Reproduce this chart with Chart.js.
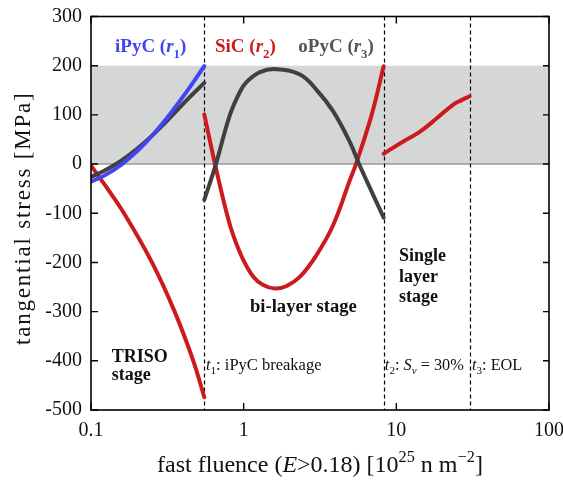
<!DOCTYPE html>
<html>
<head>
<meta charset="utf-8">
<script src="https://cdn.jsdelivr.net/npm/chart.js@4/dist/chart.umd.min.js"></script>
<style>
html,body{margin:0;padding:0;background:#fff;}
#wrap{width:563px;height:480px;position:relative;}
</style>
</head>
<body>
<div id="wrap"><canvas id="c" width="563" height="480"></canvas></div>
<script>
// ---- data ----
const xTicks = [0.1, 1, 10, 100];
const yTicks = [-500, -400, -300, -200, -100, 0, 100, 200, 300];
const eventFluence = [0.552, 8.26, 30.2];          // t1, t2, t3
const bandRange = [0, 200];                        // shaded region

const ipycX = [0.1, 0.1229, 0.158, 0.2032, 0.2614, 0.3357, 0.4316, 0.552];
const ipycY = [-35.6, -23, -1, 28, 63.7, 105, 150.7, 199];

const opyc1X = [0.1, 0.1229, 0.158, 0.2032, 0.2614, 0.3357, 0.4316, 0.552];
const opyc1Y = [-26, -13, 7, 32.6, 63, 97, 132.5, 165];

const sic1X = [0.1, 0.1229, 0.1645, 0.2509, 0.353, 0.4677, 0.552];
const sic1Y = [-3, -42, -100, -200, -300, -400, -474];

const opyc2X = [0.552, 0.658, 0.813, 0.946, 1.046, 1.278, 1.63, 2.34, 3.0, 3.86, 4.97, 5.7, 6.89, 8.26];
const opyc2Y = [-73, 0, 100, 147, 167, 187, 193, 182, 151, 107, 44, 0, -56, -109];

const sic2X = [0.552, 0.649, 0.774, 0.855, 0.994, 1.156, 1.343, 1.603, 1.912, 2.34, 3.0, 3.86, 4.97, 5.44, 6.89, 8.26];
const sic2Y = [101, 0, -100, -145, -195, -229, -246, -253, -248, -229, -185, -124, -32, 0, 100, 199];

const sic3X = [8.26, 11.1, 14.3, 18.4, 23.6, 26.8, 30.2];
const sic3Y = [21, 46, 66, 93, 121, 130, 138];

// ---- styles ----
const FONT = '"Liberation Serif", "Times New Roman", serif';
const BLUE = '#4146f2', RED = '#cc1b1f', DARK = '#404040';

const pts = (xs, ys) => xs.map((x, i) => ({x, y: ys[i]}));
const ds = (xs, ys, color) => ({
  data: pts(xs, ys), borderColor: color, borderWidth: 4, pointRadius: 0,
  fill: false, tension: 0.4, borderCapStyle: 'round', borderJoinStyle: 'round'
});

function drawRuns(ctx, x, y, runs, size, color, align) {
  const f = (r) => {
    const s = (r.sub || r.sup) ? size * 0.68 : size;
    return (r.it ? 'italic ' : '') + (r.b ? 'bold ' : '') + s + 'px ' + FONT;
  };
  let w = 0;
  runs.forEach(r => { ctx.font = f(r); w += ctx.measureText(r.t).width; });
  let cx = align === 'center' ? x - w / 2 : x;
  ctx.fillStyle = color;
  ctx.textBaseline = 'alphabetic';
  ctx.textAlign = 'left';
  runs.forEach(r => {
    ctx.font = f(r);
    let dy = 0;
    if (r.sub) dy = size * 0.3;
    if (r.sup) dy = -size * 0.42;
    ctx.fillText(r.t, cx, y + dy);
    cx += ctx.measureText(r.t).width;
  });
}

const decor = {
  id: 'decor',
  beforeDatasetsDraw(chart) {
    const {ctx, chartArea: a, scales: {x, y}} = chart;
    ctx.save();
    const yt = y.getPixelForValue(bandRange[1]), yb = y.getPixelForValue(bandRange[0]);
    ctx.fillStyle = '#d5d7d7';
    ctx.fillRect(a.left, yt, a.right - a.left, yb - yt);
    ctx.strokeStyle = '#9a9a9a';
    ctx.lineWidth = 1.5;
    ctx.beginPath(); ctx.moveTo(a.left, yb); ctx.lineTo(a.right, yb); ctx.stroke();
    ctx.strokeStyle = '#000';
    ctx.lineWidth = 1.2;
    ctx.setLineDash([4, 3]);
    eventFluence.forEach(v => {
      const px = Math.round(x.getPixelForValue(v)) + 0.5;
      ctx.beginPath(); ctx.moveTo(px, a.top); ctx.lineTo(px, a.bottom); ctx.stroke();
    });
    ctx.restore();
  },
  afterDatasetsDraw(chart) {
    const {ctx, chartArea: a, scales: {x, y}} = chart;
    ctx.save();
    // frame
    ctx.strokeStyle = '#000';
    ctx.lineWidth = 1.6;
    ctx.strokeRect(a.left, a.top, a.right - a.left, a.bottom - a.top);
    // inward ticks
    ctx.lineWidth = 1.4;
    yTicks.forEach(v => {
      const py = y.getPixelForValue(v);
      ctx.beginPath();
      ctx.moveTo(a.left, py); ctx.lineTo(a.left + 7, py);
      ctx.moveTo(a.right, py); ctx.lineTo(a.right - 6, py);
      ctx.stroke();
    });
    xTicks.forEach(v => {
      const px = x.getPixelForValue(v);
      ctx.beginPath();
      ctx.moveTo(px, a.bottom); ctx.lineTo(px, a.bottom - 7);
      ctx.moveTo(px, a.top); ctx.lineTo(px, a.top + 7);
      ctx.stroke();
    });
    const P = (f, s) => [x.getPixelForValue(f), y.getPixelForValue(s)];
    // series labels
    let p = P(0.1436, 228);
    drawRuns(ctx, p[0], p[1], [{t:'iPyC (', b:1}, {t:'r', b:1, it:1}, {t:'1', b:1, sub:1}, {t:')', b:1}], 19, BLUE);
    p = P(0.649, 228);
    drawRuns(ctx, p[0], p[1], [{t:'SiC (', b:1}, {t:'r', b:1, it:1}, {t:'2', b:1, sub:1}, {t:')', b:1}], 19, RED);
    p = P(2.28, 228);
    drawRuns(ctx, p[0], p[1], [{t:'oPyC (', b:1}, {t:'r', b:1, it:1}, {t:'3', b:1, sub:1}, {t:')', b:1}], 19, '#555555');
    // stage labels
    p = P(0.1367, -402);
    drawRuns(ctx, p[0], p[1], [{t:'TRISO', b:1}], 18, '#111');
    p = P(0.1367, -439.5);
    drawRuns(ctx, p[0], p[1], [{t:'stage', b:1}], 18, '#111');
    p = P(1.10, -301);
    drawRuns(ctx, p[0], p[1], [{t:'bi-layer stage', b:1}], 18.6, '#111');
    [['Single', -196.7], ['layer', -239], ['stage', -281]].forEach(([t, s]) => {
      const q = P(10.4, s);
      drawRuns(ctx, q[0], q[1], [{t, b:1}], 18, '#111');
    });
    // event labels
    p = P(0.566, -417.7);
    drawRuns(ctx, p[0], p[1], [{t:'t', it:1}, {t:'1', sub:1}, {t:': iPyC breakage'}], 16.5, '#111');
    p = P(8.41, -417.7);
    drawRuns(ctx, p[0], p[1], [{t:'t', it:1}, {t:'2', sub:1}, {t:': '}, {t:'S', it:1}, {t:'v', it:1, sub:1}, {t:' = 30%'}], 16.3, '#111');
    p = P(31.3, -417.7);
    drawRuns(ctx, p[0], p[1], [{t:'t', it:1}, {t:'3', sub:1}, {t:': EOL'}], 16.3, '#111');
    // x axis title
    drawRuns(ctx, (a.left + a.right) / 2, 472,
      [{t:'fast fluence ('}, {t:'E', it:1}, {t:'>0.18) [10'}, {t:'25', sup:1}, {t:' n m'}, {t:'\u22122', sup:1}, {t:']'}],
      24, '#111', 'center');
    // y axis title
    ctx.save();
    ctx.translate(30, (a.top + a.bottom) / 2 + 5);
    ctx.rotate(-Math.PI / 2);
    ctx.font = '23px ' + FONT;
    if ('letterSpacing' in ctx) ctx.letterSpacing = '1.8px';
    ctx.fillStyle = '#111';
    ctx.textAlign = 'center';
    ctx.textBaseline = 'alphabetic';
    ctx.fillText('tangential stress [MPa]', 0, 0);
    ctx.restore();
    ctx.restore();
  }
};

new Chart(document.getElementById('c'), {
  type: 'line',
  data: {
    datasets: [
      ds(ipycX, ipycY, BLUE),
      ds(opyc1X, opyc1Y, DARK),
      ds(sic1X, sic1Y, RED),
      ds(opyc2X, opyc2Y, DARK),
      ds(sic2X, sic2Y, RED),
      ds(sic3X, sic3Y, RED)
    ]
  },
  options: {
    responsive: false,
    animation: false,
    layout: {padding: {top: 16.5, right: 14, left: 0, bottom: 0}},
    plugins: {legend: {display: false}, tooltip: {enabled: false}},
    scales: {
      x: {
        type: 'logarithmic', min: xTicks[0], max: xTicks[xTicks.length - 1],
        grid: {display: false, drawTicks: false}, border: {display: false},
        afterBuildTicks: s => { s.ticks = xTicks.map(v => ({value: v})); },
        afterFit: s => { s.height = 70; s.paddingLeft = 0; s.paddingRight = 0; },
        ticks: {
          color: '#111', padding: 9, maxRotation: 0, autoSkip: false,
          font: {family: FONT, size: 20},
          callback: v => String(v)
        }
      },
      y: {
        type: 'linear', min: yTicks[0], max: yTicks[yTicks.length - 1],
        grid: {display: false, drawTicks: false}, border: {display: false},
        afterBuildTicks: s => { s.ticks = yTicks.map(v => ({value: v})); },
        afterFit: s => { s.width = 91; s.paddingTop = 0; s.paddingBottom = 0; },
        ticks: {color: '#111', padding: 9, font: {family: FONT, size: 20}, callback: v => String(v)}
      }
    }
  },
  plugins: [decor]
});
</script>
</body>
</html>
